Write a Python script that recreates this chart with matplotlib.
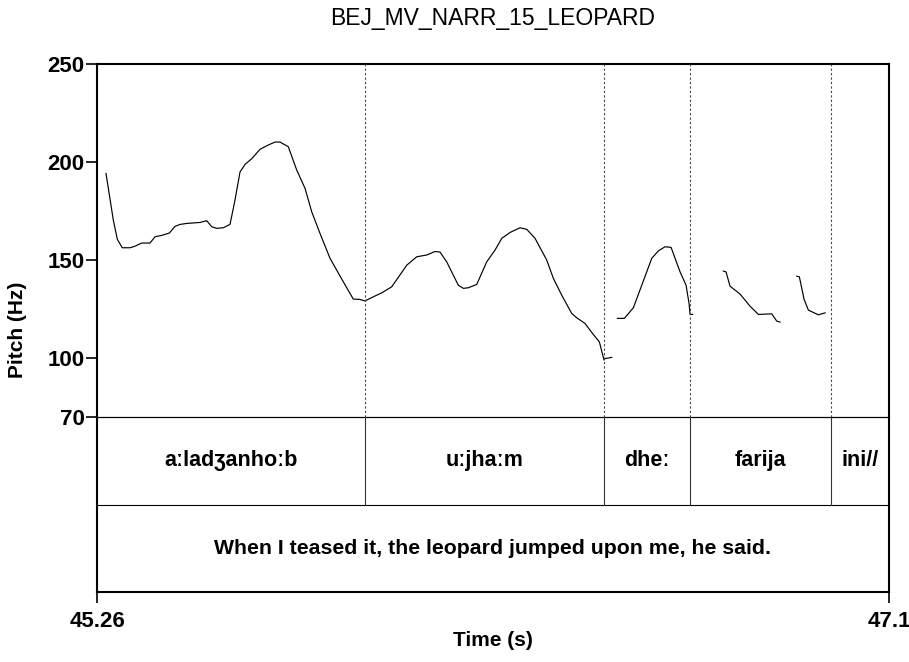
import matplotlib
matplotlib.use("Agg")
import matplotlib.pyplot as plt

plt.rcParams["font.family"] = ["Liberation Sans", "DejaVu Sans"]

title = "BEJ_MV_NARR_15_LEOPARD"
t_start, t_end = 45.26, 47.1

# voiced stretches of the pitch track (time in s, F0 in Hz)
seg1_t = [45.2809, 45.2979, 45.3072, 45.3188, 45.3367, 45.3483, 45.3639, 45.3831,
          45.3948, 45.4103, 45.4280, 45.4412, 45.4528, 45.4684, 45.4993, 45.5149,
          45.5265, 45.5381, 45.5535, 45.5690, 45.5806, 45.5922, 45.6039, 45.6194,
          45.6387, 45.6580, 45.6736, 45.6852, 45.7045, 45.7240, 45.7433, 45.7589,
          45.7781, 45.8014, 45.8323, 45.8555, 45.8694, 45.8827, 45.9020, 45.9215,
          45.9447, 45.9796, 46.0028, 46.0260, 46.0453, 46.0569, 46.0725, 46.0994,
          46.1111, 46.1227, 46.1422, 46.1654, 46.1847, 46.2003, 46.2196, 46.2428,
          46.2584, 46.2777, 46.3049, 46.3202, 46.3397, 46.3629, 46.3745, 46.3938,
          46.4094, 46.4271, 46.4380, 46.4403, 46.4559]
seg1_hz = [194.2, 170.4, 160.6, 156.3, 156.3, 157.1, 158.7, 158.7,
           161.9, 162.6, 163.8, 167.2, 168.2, 168.7, 169.2, 170.1,
           167.0, 166.2, 166.5, 168.2, 180.6, 194.9, 198.8, 201.7,
           206.5, 208.7, 210.2, 210.2, 207.8, 195.9, 186.6, 174.6,
           163.6, 150.9, 138.9, 130.1, 130.0, 129.2, 131.3, 133.3,
           136.4, 147.4, 151.7, 152.6, 154.4, 154.1, 149.1, 137.2,
           135.6, 135.9, 137.6, 149.1, 155.1, 161.1, 164.1, 166.5,
           165.7, 161.1, 150.0, 140.7, 132.1, 122.8, 120.6, 117.7,
           113.1, 108.3, 99.0, 99.8, 100.4]
seg2_t = [46.4689, 46.4852, 46.5061, 46.5256, 46.5488, 46.5642, 46.5797,
          46.5937, 46.6146, 46.6285, 46.6355, 46.6378, 46.6440]
seg2_hz = [120.3, 120.3, 125.7, 137.2, 150.9, 154.7, 156.8,
           156.5, 144.0, 137.2, 127.9, 122.3, 122.3]
seg3_t = [46.7152, 46.7214, 46.7307, 46.7539, 46.7772, 46.7965, 46.8276, 46.8392, 46.8469]
seg3_hz = [144.4, 144.0, 136.7, 132.7, 126.5, 122.3, 122.6, 118.9, 118.4]
seg4_t = [46.8857, 46.8917, 46.9027, 46.9127, 46.9359, 46.9515]
seg4_hz = [141.8, 141.5, 130.0, 124.5, 122.1, 123.1]

# word tier
word_bounds = [45.26, 45.883, 46.438, 46.638, 46.965, 47.1]
word_labels = ["a\u02d0lad\u0292anho\u02d0b", "u\u02d0jha\u02d0m", "dhe\u02d0", "farija", "ini//"]
# translation tier
translation = "When I teased it, the leopard jumped upon me, he said."

yticks = [70, 100, 150, 200, 250]

W, H = 909, 662
fig = plt.figure(figsize=(W / 100, H / 100), dpi=100)

x0, x1 = 97, 889
ax = fig.add_axes([x0 / W, 1 - 417 / H, (x1 - x0) / W, (417 - 64) / H])
tier = fig.add_axes([x0 / W, 1 - 592 / H, (x1 - x0) / W, (592 - 417) / H])
tier.patch.set_visible(False)

for t, hz in [(seg1_t, seg1_hz), (seg2_t, seg2_hz), (seg3_t, seg3_hz), (seg4_t, seg4_hz)]:
    ax.plot(t, hz, color="black", lw=0.85)

for b in word_bounds[1:-1]:
    ax.axvline(b, color="#444444", lw=0.8, ls=(0, (2, 2)))

ax.set_xlim(t_start, t_end)
ax.set_ylim(70, 250)
ax.set_yticks(yticks)
ax.set_yticklabels([str(v) for v in yticks], fontsize=16, fontweight="bold")
ax.tick_params(axis="y", direction="out", length=8, width=1.2, pad=1)
ax.set_xticks([])
for side in ["left", "right", "top"]:
    ax.spines[side].set_linewidth(1.5)
ax.spines["bottom"].set_linewidth(0.8)

tier.set_xlim(t_start, t_end)
tier.set_ylim(0, 2)
tier.axhline(1, color="black", lw=0.8)
tier.axhline(2, color="black", lw=0.8, clip_on=False)
for b in word_bounds[1:-1]:
    tier.plot([b, b], [1, 2], color="#333333", lw=0.8)
for i, lab in enumerate(word_labels):
    mid = (word_bounds[i] + word_bounds[i + 1]) / 2
    tier.text(mid, 1.5, lab, ha="center", va="center", fontsize=15.5, fontweight="bold")
tier.text((t_start + t_end) / 2, 0.5, translation, ha="center", va="center",
          fontsize=15.3, fontweight="bold")
tier.set_yticks([])
tier.set_xticks([t_start, t_end])
tier.set_xticklabels(["45.26", "47.1"], fontsize=16, fontweight="bold")
tier.tick_params(axis="x", direction="out", length=8, width=1.2, pad=6)
tier.spines["top"].set_visible(False)
for side in ["left", "right", "bottom"]:
    tier.spines[side].set_linewidth(1.5)

fig.text(0.5 * (x0 + x1) / W, 1 - 18 / H, title, ha="center", va="center", fontsize=16.5)
fig.text(18 / W, 1 - 330 / H, "Pitch (Hz)", rotation=90, ha="center", va="center",
         fontsize=15, fontweight="bold")
fig.text(0.5 * (x0 + x1) / W, 1 - 640 / H, "Time (s)", ha="center", va="center",
         fontsize=15, fontweight="bold")

fig.savefig("out.png", dpi=100)
